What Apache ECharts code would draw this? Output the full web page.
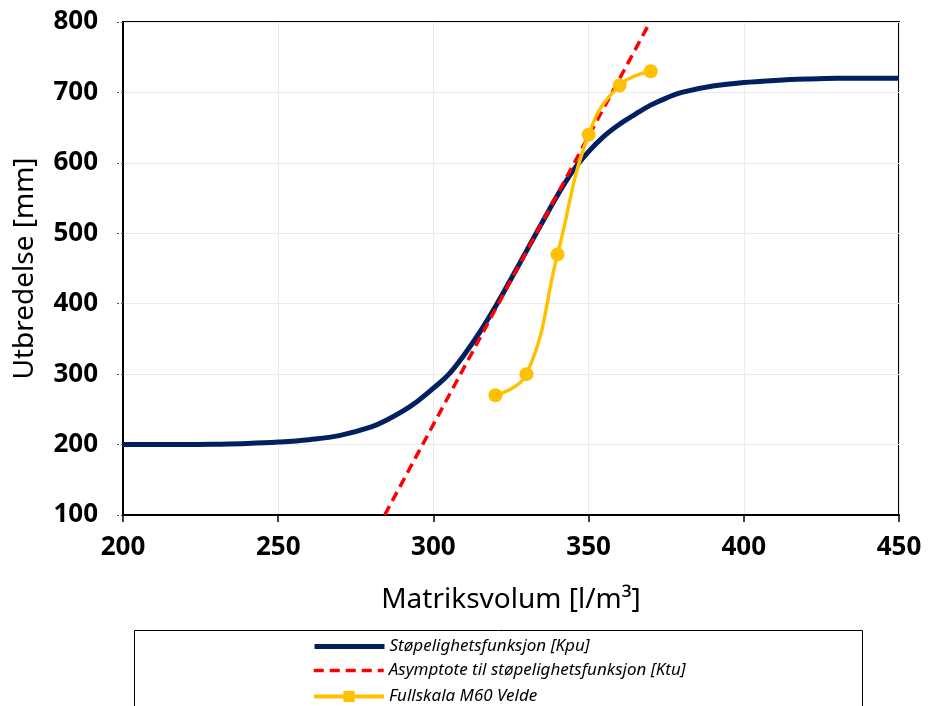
<!DOCTYPE html>
<html>
<head>
<meta charset="utf-8">
<script src="https://cdn.jsdelivr.net/npm/echarts@6/dist/echarts.min.js"></script>
<style>
html,body{margin:0;padding:0;background:#fff;}
#chart{width:930px;height:706px;}
</style>
</head>
<body>
<div id="chart"></div>
<script>
// ---- data ----
const kpuX = [200,210,220,230,240,250,260,270,280,285,290,295,300,305,310,315,320,325,330,335,340,345,350,355,360,365,370,375,380,390,400,410,420,430,440,450];
const kpuY = [200,200,200,200.5,201.5,203.5,207,213,225,235,247,262,280,300,328,360,396,435,475,515,554,589,616,638,655,669,682,692,700,709,714,717,719,720,720,720];

const ktuX = [284.3, 369.8];
const ktuY = [100, 800];

const veldeX = [320, 330, 340, 350, 360, 370];
const veldeY = [270, 300, 470, 640, 710, 730];

const xTicks = {min: 200, max: 450, interval: 50};
const yTicks = {min: 100, max: 800, interval: 100};

const names = [
  'Støpelighetsfunksjon [Kpu]',
  'Asymptote til støpelighetsfunksjon [Ktu]',
  'Fullskala M60 Velde'
];

const zip = (xs, ys) => xs.map((x, i) => [x, ys[i]]);

const BLUE = '#002060', RED = '#FF0000', YELLOW = '#FFC000';
const FONT = 'Noto Sans';

const legendText = {fontFamily: FONT, fontSize: 17, fontStyle: 'italic', color: '#000'};
const legendBase = {orient: 'vertical', left: 307, itemWidth: 70, itemHeight: 14, selectedMode: false, textStyle: legendText};

const chart = echarts.init(document.getElementById('chart'), null, {renderer: 'canvas'});
chart.setOption({
  animation: false,
  backgroundColor: '#ffffff',
  textStyle: {fontFamily: FONT},
  grid: {left: 123, right: 31, top: 22, bottom: 191, show: true, borderColor: '#000', borderWidth: 2, backgroundColor: 'transparent'},
  xAxis: {
    type: 'value', min: xTicks.min, max: xTicks.max, interval: xTicks.interval,
    name: 'Matriksvolum [l/m³]', nameLocation: 'middle', nameGap: 71,
    nameTextStyle: {fontFamily: FONT, fontSize: 28, color: '#000'},
    axisLine: {show: true, onZero: false, lineStyle: {color: '#000', width: 2}},
    axisTick: {show: true, inside: false, length: 7, lineStyle: {color: '#000', width: 1.5}},
    axisLabel: {margin: 20, fontFamily: FONT, fontSize: 26, fontWeight: 'bold', color: '#000'},
    splitLine: {show: true, lineStyle: {color: '#ebebeb', width: 1}}
  },
  yAxis: {
    type: 'value', min: yTicks.min, max: yTicks.max, interval: yTicks.interval,
    name: 'Utbredelse [mm]', nameLocation: 'middle', nameGap: 84, nameRotate: 90,
    nameTextStyle: {fontFamily: FONT, fontSize: 28, color: '#000'},
    axisLine: {show: true, onZero: false, lineStyle: {color: '#000', width: 2}},
    axisTick: {show: true, inside: false, length: 6, lineStyle: {color: '#555', width: 1, type: [2, 2]}},
    axisLabel: {margin: 25, fontFamily: FONT, fontSize: 26, fontWeight: 'bold', color: '#000'},
    splitLine: {show: true, lineStyle: {color: '#ebebeb', width: 1}}
  },
  legend: [
    Object.assign({}, legendBase, {top: 633, data: [{name: names[0], itemStyle: {opacity: 0}}], lineStyle: {width: 5}}),
    Object.assign({}, legendBase, {top: 657, data: [{name: names[1], itemStyle: {opacity: 0}}], lineStyle: {width: 3.5}}),
    Object.assign({}, legendBase, {top: 683, data: [names[2]], lineStyle: {width: 4}})
  ],
  graphic: [{
    type: 'rect', silent: true, z: -1,
    shape: {x: 134.5, y: 630.5, width: 728, height: 100},
    style: {fill: '#fff', stroke: '#000', lineWidth: 1}
  }],
  series: [
    { // legend-only entry so the legend shows a square marker like the reference
      name: names[2], type: 'line', data: [], symbol: 'rect', symbolSize: 10,
      lineStyle: {color: YELLOW, width: 4}, itemStyle: {color: YELLOW}
    },
    {
      name: names[0], type: 'line', data: zip(kpuX, kpuY), smooth: 0.4,
      symbol: 'none', lineStyle: {color: BLUE, width: 5}, itemStyle: {color: BLUE}, z: 2
    },
    {
      name: names[1], type: 'line', data: zip(ktuX, ktuY),
      symbol: 'none', lineStyle: {color: RED, width: 3.5, type: [10, 6]}, itemStyle: {color: RED}, z: 3
    },
    {
      name: names[2], type: 'line', data: zip(veldeX, veldeY), smooth: 0.45,
      symbol: 'circle', symbolSize: 14, lineStyle: {color: YELLOW, width: 3.5}, itemStyle: {color: YELLOW}, z: 4
    }
  ]
});
</script>
</body>
</html>
